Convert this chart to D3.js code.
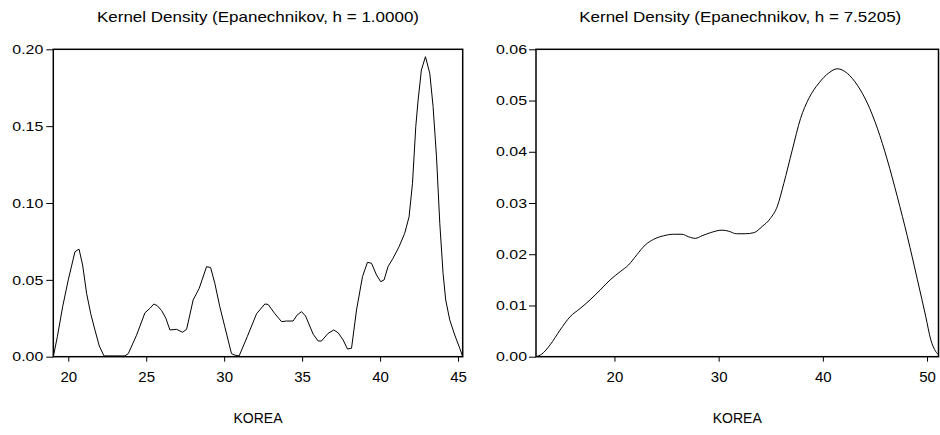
<!DOCTYPE html>
<html>
<head>
<meta charset="utf-8">
<script src="https://cdn.jsdelivr.net/npm/d3@7"></script>
<style>
  html, body { margin: 0; padding: 0; background: #fff; }
  svg { display: block; }
  text { font-family: "Liberation Sans", Arial, Helvetica, sans-serif; fill: #000; }
</style>
</head>
<body>
<svg id="chart" width="940" height="435"></svg>
<script>
// ---------- DATA ----------
const leftTitle = "Kernel Density (Epanechnikov, h = 1.0000)";
const rightTitle = "Kernel Density (Epanechnikov, h = 7.5205)";
const axisTitle = "KOREA";

const leftX = [19.04, 19.3, 19.64, 20.0, 20.43, 20.69, 20.92, 21.18, 21.44, 21.71, 21.99, 22.29, 23.63, 23.85, 24.38, 24.92, 25.24, 25.49, 25.71, 25.99, 26.26, 26.52, 26.95, 27.33, 27.59, 28.01, 28.4, 28.87, 29.13, 29.4, 29.72, 30.04, 30.47, 30.69, 30.96, 31.48, 32.08, 32.61, 32.82, 33.25, 33.68, 34.0, 34.42, 34.68, 34.96, 35.22, 35.71, 36.03, 36.24, 36.67, 37.03, 37.31, 37.63, 37.91, 38.17, 38.49, 38.87, 39.19, 39.45, 39.77, 40.04, 40.26, 40.51, 40.83, 41.22, 41.58, 41.86, 42.08, 42.29, 42.44, 42.65, 42.91, 43.19, 43.4, 43.62, 43.83, 44.04, 44.21, 44.47, 44.79, 45.11, 45.3];
const leftY = [0.0, 0.013, 0.0325, 0.05, 0.0683, 0.07, 0.0597, 0.041, 0.028, 0.0174, 0.007, 0.0005, 0.0005, 0.002, 0.014, 0.0286, 0.0315, 0.0343, 0.0332, 0.030, 0.025, 0.0174, 0.0178, 0.0159, 0.0178, 0.0369, 0.0445, 0.0586, 0.058, 0.0478, 0.0325, 0.0195, 0.002, 0.001, 0.0005, 0.013, 0.028, 0.0343, 0.034, 0.028, 0.0228, 0.0232, 0.0232, 0.0271, 0.0293, 0.0265, 0.0146, 0.0102, 0.0102, 0.0152, 0.0174, 0.0156, 0.0109, 0.005, 0.0055, 0.0304, 0.052, 0.0614, 0.0608, 0.0532, 0.0488, 0.050, 0.0586, 0.064, 0.0716, 0.0803, 0.091, 0.1128, 0.1497, 0.167, 0.1865, 0.1952, 0.1843, 0.1627, 0.130, 0.0868, 0.0543, 0.0369, 0.0239, 0.0141, 0.0055, 0.0];

const rightX = [12.47, 13.02, 13.82, 14.78, 15.74, 16.7, 17.66, 18.62, 19.59, 20.55, 21.35, 22.15, 22.95, 23.75, 24.71, 25.67, 26.48, 27.12, 27.76, 28.4, 29.2, 30.33, 30.96, 31.7, 32.57, 33.37, 34.17, 34.97, 35.62, 36.25, 37.06, 37.86, 38.65, 39.62, 40.58, 41.38, 42.35, 43.31, 44.27, 45.23, 46.19, 47.15, 48.12, 49.08, 49.88, 50.36, 50.84, 51.16];
const rightY = [0.0, 0.0005, 0.0023, 0.0052, 0.0078, 0.0094, 0.0111, 0.013, 0.015, 0.0166, 0.0179, 0.0199, 0.0218, 0.0229, 0.0236, 0.0239, 0.0239, 0.0234, 0.0231, 0.0236, 0.0242, 0.0247, 0.0245, 0.024, 0.024, 0.0242, 0.0254, 0.027, 0.0293, 0.0338, 0.0403, 0.0465, 0.0504, 0.0534, 0.0554, 0.0562, 0.0553, 0.053, 0.0495, 0.0446, 0.0384, 0.0312, 0.0234, 0.015, 0.0078, 0.0033, 0.001, 0.0003];

const leftXTicks = [20, 25, 30, 35, 40, 45];
const leftYTicks = [0.00, 0.05, 0.10, 0.15, 0.20];
const rightXTicks = [20, 30, 40, 50];
const rightYTicks = [0.00, 0.01, 0.02, 0.03, 0.04, 0.05, 0.06];

const leftXDomain = [19.04, 45.3];
const leftYDomain = [0, 0.20];
const rightXDomain = [12.47, 51.1];
const rightYDomain = [0, 0.06];

// ---------- DRAW ----------
const svg = d3.select("#chart");

function panel(cfg) {
  const g = svg.append("g");
  const x = d3.scaleLinear().domain(cfg.xDomain).range([cfg.x0, cfg.x1]);
  const y = d3.scaleLinear().domain(cfg.yDomain).range([cfg.y1, cfg.y0]);

  // title
  g.append("text")
    .attr("x", (cfg.x0 + cfg.x1) / 2 + cfg.titleShift)
    .attr("y", 22)
    .attr("text-anchor", "middle")
    .style("font-size", "15px")
    .attr("textLength", 322)
    .attr("lengthAdjust", "spacingAndGlyphs")
    .text(cfg.title);

  // y axis
  const ya = g.append("g")
    .attr("transform", `translate(${cfg.x0},0)`)
    .call(d3.axisLeft(y).tickValues(cfg.yTicks).tickSize(7).tickPadding(cfg.yPad).tickFormat(d3.format(".2f")));
  ya.select(".domain").remove();
  ya.selectAll(".tick line").attr("stroke", "#000").attr("stroke-width", 1);
  ya.selectAll(".tick text")
    .style("font-size", "13px")
    .style("font-family", "'Liberation Sans', Arial, sans-serif")
    .attr("textLength", 31)
    .attr("lengthAdjust", "spacingAndGlyphs");

  // x axis
  const xa = g.append("g")
    .attr("transform", `translate(0,${cfg.y1})`)
    .call(d3.axisBottom(x).tickValues(cfg.xTicks).tickSize(5).tickPadding(10).tickFormat(d3.format("d")));
  xa.select(".domain").remove();
  xa.selectAll(".tick line").attr("stroke", "#000").attr("stroke-width", 1);
  xa.selectAll(".tick text")
    .style("font-size", "15px")
    .style("font-family", "'Liberation Sans', Arial, sans-serif");

  // axis title
  g.append("text")
    .attr("x", (cfg.x0 + cfg.x1) / 2)
    .attr("y", 423)
    .attr("text-anchor", "middle")
    .style("font-size", "14px")
    .text(axisTitle);

  // curve
  const pts = cfg.xs.map((v, i) => [v, cfg.ys[i]]);
  g.append("path")
    .datum(pts)
    .attr("fill", "none")
    .attr("stroke", "#000")
    .attr("stroke-width", 1)
    .attr("d", d3.line().x(d => x(d[0])).y(d => y(d[1])).curve(cfg.curve));

  // frame
  g.append("rect")
    .attr("x", cfg.x0).attr("y", cfg.y0)
    .attr("width", cfg.x1 - cfg.x0).attr("height", cfg.y1 - cfg.y0)
    .attr("fill", "none").attr("stroke", "#000").attr("stroke-width", 1.5);
}

panel({
  x0: 53.3, x1: 462.7, y0: 49.3, y1: 356.7,
  xDomain: leftXDomain, yDomain: leftYDomain,
  xTicks: leftXTicks, yTicks: leftYTicks, yPad: 3,
  xs: leftX, ys: leftY, title: leftTitle, titleShift: 0,
  curve: d3.curveLinear
});

panel({
  x0: 536, x1: 938.5, y0: 49.3, y1: 356.7,
  xDomain: rightXDomain, yDomain: rightYDomain,
  xTicks: rightXTicks, yTicks: rightYTicks, yPad: 2,
  xs: rightX, ys: rightY, title: rightTitle, titleShift: 3,
  curve: d3.curveMonotoneX
});
</script>
</body>
</html>
